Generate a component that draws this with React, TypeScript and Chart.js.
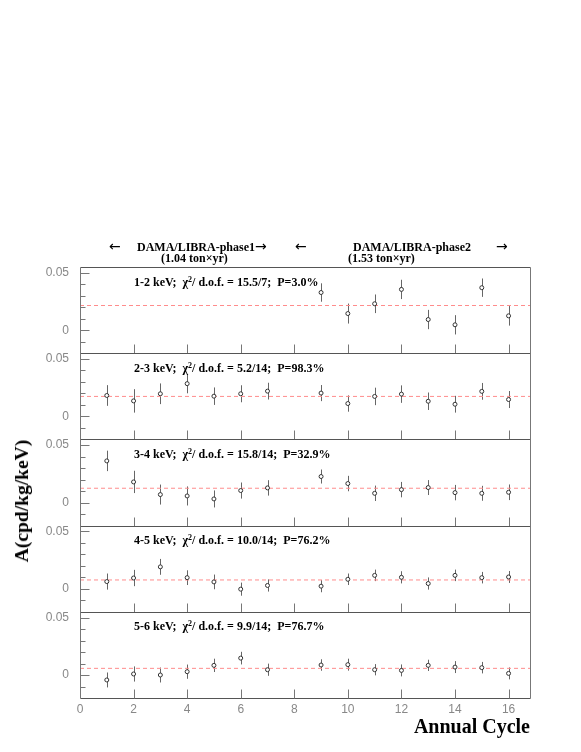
import React, { useEffect, useRef } from "react";
import { Chart, registerables } from "chart.js";

Chart.register(...registerables);

// ---- data ----
const cyclesPhase2 = [9, 10, 11, 12, 13, 14, 15, 16];
const cyclesAll = [1, 2, 3, 4, 5, 6, 7, 9, 10, 11, 12, 13, 14, 15, 16];

const amp12 = [0.0328, 0.0145, 0.023, 0.0355, 0.0093, 0.0047, 0.037, 0.0125];
const err12 = [0.008, 0.0087, 0.0081, 0.0084, 0.0084, 0.0084, 0.008, 0.0085];

const amp23 = [0.0182, 0.0135, 0.0197, 0.0285, 0.0176, 0.0197, 0.022, 0.0203, 0.0112, 0.0174, 0.0194, 0.0132, 0.0106, 0.0218, 0.0147];
const err23 = [0.009, 0.0102, 0.009, 0.0084, 0.0076, 0.0074, 0.0073, 0.007, 0.0071, 0.0076, 0.0076, 0.0076, 0.0073, 0.0073, 0.0074];

const amp34 = [0.0363, 0.018, 0.007, 0.0058, 0.0032, 0.0105, 0.0128, 0.0227, 0.0166, 0.0081, 0.0113, 0.0131, 0.0087, 0.0081, 0.009];
const err34 = [0.0089, 0.0097, 0.0087, 0.0083, 0.0074, 0.007, 0.0067, 0.0061, 0.0067, 0.0067, 0.0067, 0.0065, 0.0067, 0.0065, 0.0068];

const amp45 = [0.0063, 0.0094, 0.0191, 0.0097, 0.006, -0.0003, 0.0029, 0.0023, 0.0083, 0.0117, 0.01, 0.0046, 0.0117, 0.0097, 0.0103];
const err45 = [0.007, 0.0071, 0.0069, 0.0064, 0.0064, 0.0057, 0.0053, 0.0053, 0.005, 0.005, 0.0053, 0.0053, 0.005, 0.005, 0.0052];

const amp56 = [-0.0043, 0.0009, 0.0, 0.0029, 0.0084, 0.0147, 0.0046, 0.0087, 0.009, 0.0046, 0.004, 0.0084, 0.0069, 0.0064, 0.0014];
const err56 = [0.0065, 0.0066, 0.0065, 0.0062, 0.0058, 0.0055, 0.0053, 0.005, 0.0052, 0.0049, 0.0052, 0.0049, 0.0052, 0.005, 0.0052];

const fitLevels = [0.0215, 0.0174, 0.0125, 0.0077, 0.0058];

const energyBins = ["1-2 keV;", "2-3 keV;", "3-4 keV;", "4-5 keV;", "5-6 keV;"];
const chiDof = ["15.5/7;", "5.2/14;", "15.8/14;", "10.0/14;", "9.9/14;"];
const probs = ["P=3.0%", "P=98.3%", "P=32.9%", "P=76.2%", "P=76.7%"];

const yMin = -0.02;
const yMax = 0.055;
const yTickValues = [-0.02, -0.01, 0, 0.01, 0.02, 0.03, 0.04, 0.05];
const yLabelValues = [0, 0.05];
const xMin = 0;
const xMax = 16.8;
const xTickValues = [0, 2, 4, 6, 8, 10, 12, 14, 16];

const panels = [
  { x: cyclesPhase2, y: amp12, e: err12 },
  { x: cyclesAll, y: amp23, e: err23 },
  { x: cyclesAll, y: amp34, e: err34 },
  { x: cyclesAll, y: amp45, e: err45 },
  { x: cyclesAll, y: amp56, e: err56 },
];

// ---- layout constants ----
const W = 581;
const H = 752;
const AREA_TOP = 267;
const AREA_LEFT = 80;
const AREA_RIGHT = 530;
const AREA_BOTTOM = 698;
const PANEL_H = (AREA_BOTTOM - AREA_TOP) / 5;

const SERIF = "'Liberation Serif', 'Times New Roman', serif";
const SANS = "'Liberation Sans', Arial, sans-serif";
const ARROW_FONT = "'DejaVu Sans', sans-serif";

const framePlugin = {
  id: "frameAndErrors",
  beforeDatasetsDraw(chart: any) {
    const ctx = chart.ctx;
    const xs = chart.scales.x;
    ctx.save();
    ctx.strokeStyle = "#666";
    ctx.lineWidth = 1;
    chart.data.datasets.forEach((ds: any) => {
      if (!ds.errors) return;
      const ys = chart.scales[ds.yAxisID];
      ds.data.forEach((p: any, j: number) => {
        const px = Math.round(xs.getPixelForValue(p.x)) + 0.5;
        const y0 = ys.getPixelForValue(p.y - ds.errors[j]);
        const y1 = ys.getPixelForValue(p.y + ds.errors[j]);
        ctx.beginPath();
        ctx.moveTo(px, y0);
        ctx.lineTo(px, y1);
        ctx.stroke();
      });
    });
    ctx.restore();
  },
  afterDraw(chart: any) {
    const ctx = chart.ctx;
    const xs = chart.scales.x;
    const { left, right } = chart.chartArea;
    ctx.save();
    ctx.lineWidth = 1;
    for (let i = 1; i <= 5; i++) {
      const ys = chart.scales["y" + i];
      const top = Math.round(ys.top) + 0.5;
      const bottom = Math.round(ys.bottom) + 0.5;
      const l = Math.round(left) + 0.5;
      const r = Math.round(right) + 0.5;
      ctx.strokeStyle = "#555";
      ctx.beginPath();
      ctx.moveTo(l, top);
      ctx.lineTo(r, top);
      ctx.moveTo(l, bottom);
      ctx.lineTo(r, bottom);
      ctx.stroke();
      ctx.strokeStyle = "#777";
      ctx.beginPath();
      ctx.moveTo(l, top);
      ctx.lineTo(l, bottom);
      ctx.moveTo(r, top);
      ctx.lineTo(r, bottom);
      ctx.stroke();
      // y ticks pointing inward
      ys.ticks.forEach((t: any) => {
        const v = t.value;
        if (v <= yMin + 1e-9) return;
        const major = yLabelValues.some((m) => Math.abs(m - v) < 1e-9);
        const len = major ? 9 : 5;
        const py = Math.round(ys.getPixelForValue(v)) + 0.5;
        ctx.beginPath();
        ctx.moveTo(l, py);
        ctx.lineTo(l + len, py);
        ctx.stroke();
      });
      // x ticks at each panel bottom
      xs.ticks.forEach((t: any) => {
        if (t.value <= xMin) return;
        const px = Math.round(xs.getPixelForValue(t.value)) + 0.5;
        ctx.beginPath();
        ctx.moveTo(px, bottom);
        ctx.lineTo(px, bottom - 9);
        ctx.stroke();
      });
    }
    ctx.restore();
  },
};

export default function App() {
  const canvasRef = useRef<HTMLCanvasElement | null>(null);

  useEffect(() => {
    if (!canvasRef.current) return;
    const datasets: any[] = [];
    panels.forEach((p, i) => {
      datasets.push({
        type: "scatter",
        label: energyBins[i],
        yAxisID: "y" + (i + 1),
        data: p.x.map((xv, j) => ({ x: xv, y: p.y[j] })),
        errors: p.e,
        pointStyle: "circle",
        pointRadius: 2,
        pointHoverRadius: 2,
        pointBorderWidth: 1,
        pointBorderColor: "#333",
        pointBackgroundColor: "#fff",
        showLine: false,
      });
    });
    panels.forEach((_, i) => {
      datasets.push({
        type: "line",
        label: "fit " + energyBins[i],
        yAxisID: "y" + (i + 1),
        data: [
          { x: xMin, y: fitLevels[i] },
          { x: xMax, y: fitLevels[i] },
        ],
        borderColor: "#ff8c8c",
        borderWidth: 1,
        borderDash: [4, 3],
        pointRadius: 0,
        fill: false,
      });
    });

    const scales: any = {
      x: {
        type: "linear",
        position: "bottom",
        min: xMin,
        max: xMax,
        grid: { display: false, drawTicks: false },
        border: { display: false },
        afterBuildTicks: (s: any) => {
          s.ticks = xTickValues.map((v) => ({ value: v }));
        },
        ticks: {
          autoSkip: false,
          maxRotation: 0,
          padding: 4,
          color: "#888",
          font: { family: SANS, size: 12 },
          callback: (v: any) => String(v),
        },
        afterFit: (s: any) => {
          s.height = H - AREA_BOTTOM;
        },
      },
    };
    for (let i = 1; i <= 5; i++) {
      scales["y" + i] = {
        type: "linear",
        position: "left",
        stack: "panels",
        stackWeight: 1,
        weight: 6 - i,
        min: yMin,
        max: yMax,
        grid: { display: false, drawTicks: false },
        border: { display: false },
        afterBuildTicks: (s: any) => {
          s.ticks = yTickValues.map((v) => ({ value: v }));
        },
        ticks: {
          autoSkip: false,
          padding: 11,
          color: "#888",
          font: { family: SANS, size: 12 },
          callback: (v: any) => {
            const n = Number(v);
            if (Math.abs(n - 0.05) < 1e-9) return "0.05";
            if (Math.abs(n) < 1e-9) return "0";
            return "";
          },
        },
        afterFit: (s: any) => {
          s.width = AREA_LEFT;
        },
      };
    }

    const chart = new Chart(canvasRef.current, {
      type: "scatter",
      data: { datasets },
      options: {
        animation: false,
        responsive: false,
        devicePixelRatio: 1,
        layout: {
          padding: { top: AREA_TOP, right: W - AREA_RIGHT, left: 0, bottom: 0 },
        },
        plugins: {
          legend: { display: false },
          tooltip: { enabled: false },
          title: { display: false },
        },
        scales,
      } as any,
      plugins: [framePlugin],
    } as any);
    return () => chart.destroy();
  }, []);

  const hdr: React.CSSProperties = {
    position: "absolute",
    fontFamily: SERIF,
    fontWeight: "bold",
    fontSize: 12,
    lineHeight: "12px",
    whiteSpace: "pre",
    color: "#000",
  };
  const arrow: React.CSSProperties = {
    position: "absolute",
    fontFamily: ARROW_FONT,
    fontSize: 14,
    lineHeight: "14px",
    color: "#000",
  };

  return (
    <div style={{ position: "absolute", left: 0, top: 0, width: W, height: H, background: "#fff" }}>
      <canvas ref={canvasRef} width={W} height={H} style={{ position: "absolute", left: 0, top: 0, width: W, height: H }} />
      <div style={{ ...arrow, left: 109, top: 239 }}>←</div>
      <div style={{ ...hdr, left: 137, top: 240.5 }}>DAMA/LIBRA-phase1</div>
      <div style={{ ...arrow, left: 255, top: 239 }}>→</div>
      <div style={{ ...hdr, left: 161, top: 252 }}>(1.04 ton×yr)</div>
      <div style={{ ...arrow, left: 295, top: 239 }}>←</div>
      <div style={{ ...hdr, left: 353, top: 240.5 }}>DAMA/LIBRA-phase2</div>
      <div style={{ ...hdr, left: 348, top: 252 }}>(1.53 ton×yr)</div>
      <div style={{ ...arrow, left: 496, top: 239 }}>→</div>
      {energyBins.map((eb, i) => (
        <div key={eb} style={{ ...hdr, left: 134, top: AREA_TOP + i * PANEL_H + 8.5 }}>
          {eb + "  χ"}
          <sup style={{ fontSize: 8, lineHeight: 0, verticalAlign: "4px" }}>2</sup>
          {"/ d.o.f. = " + chiDof[i] + "  " + probs[i]}
        </div>
      ))}
      <div
        style={{
          position: "absolute",
          left: 22,
          top: 501,
          transform: "translate(-50%, -50%) rotate(-90deg)",
          fontFamily: SERIF,
          fontWeight: "bold",
          fontSize: 19.5,
          lineHeight: "20px",
          whiteSpace: "pre",
        }}
      >
        A(cpd/kg/keV)
      </div>
      <div
        style={{
          position: "absolute",
          right: W - AREA_RIGHT,
          top: 716,
          fontFamily: SERIF,
          fontWeight: "bold",
          fontSize: 20,
          lineHeight: "20px",
          whiteSpace: "pre",
        }}
      >
        Annual Cycle
      </div>
    </div>
  );
}
